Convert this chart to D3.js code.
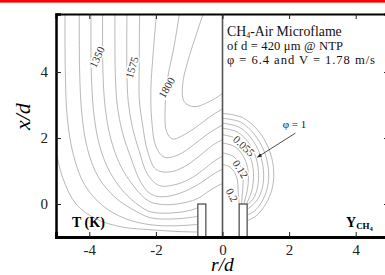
<!DOCTYPE html>
<html>
<head>
<meta charset="utf-8">
<script src="https://cdn.jsdelivr.net/npm/d3@7"></script>
<style>
  body { margin: 0; background: #fff; }
  svg { display: block; font-family: "Liberation Serif", "DejaVu Serif", serif; }
</style>
</head>
<body>
<svg id="chart" width="385" height="275"></svg>
<script>
// axis ticks
const rTicks = [-4, -2, 0, 2, 4];
const xTicks = [0, 2, 4];

// temperature contours, left half, [r/d, x/d]
const tempContours = [
  [[-5.0,1.6],[-4.8,0.8],[-4.4,0.0],[-3.8,-0.45],[-3.0,-0.7],[-2.15,-0.78],[-1.4,-0.83],[-0.76,-0.85]],
  [[-4.73,5.8],[-4.72,4.0],[-4.66,2.6],[-4.48,1.5],[-4.15,0.6],[-3.6,-0.05],[-2.9,-0.45],[-2.15,-0.63],[-1.4,-0.66],[-0.76,-0.62]],
  [[-4.3,5.8],[-4.29,4.0],[-4.22,2.7],[-4.05,1.65],[-3.72,0.8],[-3.2,0.18],[-2.6,-0.22],[-2.15,-0.42],[-1.4,-0.45],[-0.76,-0.38]],
  [[-3.95,5.8],[-3.94,4.0],[-3.87,2.8],[-3.7,1.8],[-3.4,1.0],[-2.95,0.35],[-2.5,-0.05],[-2.15,-0.24],[-1.5,-0.27],[-1.0,-0.2],[-0.76,-0.12]],
  [[-3.6,5.8],[-3.59,4.0],[-3.52,2.9],[-3.36,2.0],[-3.08,1.2],[-2.65,0.52],[-2.2,0.08],[-1.7,-0.02],[-1.1,0.05],[-0.72,0.18],[-0.4,0.4],[-0.15,0.55],[0,0.62]],
  [[-3.23,5.8],[-3.22,4.0],[-3.16,3.0],[-3.0,2.15],[-2.75,1.4],[-2.45,0.65],[-2.15,0.3],[-1.8,0.22],[-1.3,0.32],[-0.75,0.58],[-0.4,0.82],[-0.15,0.98],[0,1.05]],
  [[-2.87,5.8],[-2.87,4.0],[-2.83,3.1],[-2.7,2.3],[-2.5,1.6],[-2.25,0.9],[-1.9,0.56],[-1.45,0.58],[-1.0,0.75],[-0.6,1.02],[-0.25,1.3],[0,1.45]],
  [[-2.49,5.8],[-2.5,4.2],[-2.5,3.2],[-2.4,2.4],[-2.25,1.6],[-2.0,1.05],[-1.6,0.97],[-1.15,1.13],[-0.7,1.45],[-0.3,1.78],[0,1.95]],
  [[-1.98,5.8],[-2.08,4.6],[-2.15,3.5],[-2.13,2.6],[-2.0,1.75],[-1.75,1.42],[-1.35,1.48],[-0.9,1.77],[-0.45,2.12],[0,2.4]],
  [[-1.29,5.8],[-1.45,4.8],[-1.65,3.8],[-1.72,3.0],[-1.68,2.2],[-1.5,1.97],[-1.15,2.1],[-0.7,2.4],[-0.3,2.7],[0,2.88]],
  [[-0.57,5.8],[-0.8,5.1],[-1.05,4.3],[-1.2,3.6],[-1.15,3.1],[-0.85,2.95],[-0.4,3.1],[0,3.35]]
];

// methane mass fraction contours, right half
const fuelContours = [
  [[0,2.75],[0.6,2.62],[1.05,2.25],[1.38,1.7],[1.53,1.1],[1.5,0.5],[1.3,0],[1.02,-0.35],[0.76,-0.5]],
  [[0,2.6],[0.55,2.48],[0.95,2.12],[1.25,1.6],[1.38,1.05],[1.35,0.5],[1.17,0.05],[0.95,-0.22],[0.76,-0.33]],
  [[0,2.45],[0.5,2.33],[0.86,2.0],[1.12,1.52],[1.23,1.02],[1.2,0.5],[1.04,0.12],[0.76,-0.15]],
  [[0,2.3],[0.45,2.18],[0.77,1.88],[0.99,1.45],[1.08,0.98],[1.05,0.5],[0.92,0.15],[0.76,0]],
  [[0,2.1],[0.4,1.99],[0.68,1.72],[0.86,1.35],[0.93,0.95],[0.9,0.5],[0.8,0.18],[0.72,0]],
  [[0,1.85],[0.35,1.75],[0.58,1.52],[0.73,1.2],[0.78,0.85],[0.75,0.45],[0.68,0.15],[0.64,0]],
  [[0,1.55],[0.3,1.46],[0.48,1.27],[0.59,1.0],[0.62,0.7],[0.6,0.35],[0.57,0]],
  [[0,1.2],[0.22,1.12],[0.37,0.95],[0.45,0.7],[0.47,0.4],[0.5,0]]
];

const tempLabels = ['1350', '1575', '1800'];
const tempLabelAt = [[-3.77, 4.45], [-2.72, 4.14], [-1.68, 3.53]];
const fuelLabels = ['0.055', '0.12', '0.2'];
const fuelLabelAt = [[0.645, 1.76], [0.54, 1.06], [0.29, 0.27]];

// burner tube walls (inner, outer radius) and exit height
const tubeWall = [0.5, 0.74];
const tubeExit = 0;

const noteLines = ['of d = 420 μm @ NTP', 'φ = 6.4 and V = 1.78 m/s'];

const svg = d3.select('#chart');
const W = 385, H = 275;

const xs = d3.scaleLinear().domain([-5, 5]).range([56, 389]);
const ys = d3.scaleLinear().domain([-1, 5.76]).range([237, 14]);

// red strip at the very top
svg.append('rect').attr('x', 0).attr('y', 0).attr('width', W).attr('height', 2.6).attr('fill', '#f00');

const defs = svg.append('defs');
defs.append('clipPath').attr('id', 'clipL').append('rect')
  .attr('x', xs(-5)).attr('y', ys(5.76)).attr('width', xs(0) - xs(-5)).attr('height', ys(-1) - ys(5.76));
defs.append('clipPath').attr('id', 'clipR').append('rect')
  .attr('x', xs(0)).attr('y', ys(5.76)).attr('width', xs(5) - xs(0)).attr('height', ys(-1) - ys(5.76));

const line = d3.line()
  .x(d => xs(d[0]))
  .y(d => ys(d[1]))
  .curve(d3.curveCatmullRom.alpha(0.5));

svg.append('g').attr('clip-path', 'url(#clipL)')
  .selectAll('path').data(tempContours).join('path')
  .attr('d', line)
  .attr('fill', 'none').attr('stroke', '#a0a0a0').attr('stroke-width', 0.75);

svg.append('g').attr('clip-path', 'url(#clipR)')
  .selectAll('path').data(fuelContours).join('path')
  .attr('d', line)
  .attr('fill', 'none').attr('stroke', '#a0a0a0').attr('stroke-width', 0.75);

// contour labels
const tempAngles = [-65, -74, -60];
svg.append('g').selectAll('text').data(tempLabels).join('text')
  .attr('transform', (d, i) => `translate(${xs(tempLabelAt[i][0])},${ys(tempLabelAt[i][1])}) rotate(${tempAngles[i]})`)
  .attr('text-anchor', 'middle').attr('dy', '0.35em')
  .attr('font-size', 11).attr('fill', '#333')
  .attr('stroke', '#fff').attr('stroke-width', 3).attr('paint-order', 'stroke')
  .text(d => d);

const fuelAngles = [43, 58, 63];
svg.append('g').selectAll('text').data(fuelLabels).join('text')
  .attr('transform', (d, i) => `translate(${xs(fuelLabelAt[i][0])},${ys(fuelLabelAt[i][1])}) rotate(${fuelAngles[i]})`)
  .attr('text-anchor', 'middle').attr('dy', '0.35em')
  .attr('font-size', 11).attr('fill', '#333')
  .attr('stroke', '#fff').attr('stroke-width', 3).attr('paint-order', 'stroke')
  .text(d => d);

// phi = 1 pointer
defs.append('marker').attr('id', 'arr').attr('viewBox', '0 0 10 10')
  .attr('refX', 9).attr('refY', 5).attr('markerWidth', 6).attr('markerHeight', 6).attr('orient', 'auto')
  .append('path').attr('d', 'M0,1 L10,5 L0,9 Z').attr('fill', '#222');
svg.append('line')
  .attr('x1', xs(2.19)).attr('y1', ys(2.15)).attr('x2', xs(1.05)).attr('y2', ys(1.42))
  .attr('stroke', '#222').attr('stroke-width', 0.8).attr('marker-end', 'url(#arr)');
svg.append('text').attr('x', xs(2.16)).attr('y', ys(2.42)).attr('dy', '0.35em')
  .attr('text-anchor', 'middle').attr('font-size', 11).attr('fill', '#222').text('φ = 1');

// centreline
svg.append('line')
  .attr('x1', xs(0)).attr('x2', xs(0)).attr('y1', ys(5.76)).attr('y2', ys(-1))
  .attr('stroke', '#555').attr('stroke-width', 1.6);

// burner tubes on both sides
svg.append('g').selectAll('rect').data([-1, 1]).join('rect')
  .attr('x', s => s < 0 ? xs(-tubeWall[1]) : xs(tubeWall[0]))
  .attr('y', ys(tubeExit))
  .attr('width', xs(tubeWall[1]) - xs(tubeWall[0]))
  .attr('height', ys(-1) - ys(tubeExit))
  .attr('fill', '#fff').attr('stroke', '#444').attr('stroke-width', 1.2);

// axes, ticks drawn inward
const fmt = d => d < 0 ? '-' + Math.abs(d) : String(d);
const gx = svg.append('g').attr('transform', `translate(0,${ys(-1)})`)
  .call(d3.axisBottom(xs).tickValues(rTicks).tickSize(-5).tickPadding(7).tickFormat(fmt));
const gxTop = svg.append('g').attr('transform', `translate(0,${ys(5.76)})`)
  .call(d3.axisTop(xs).tickValues(rTicks).tickSize(-5).tickFormat(''));
const gy = svg.append('g').attr('transform', `translate(${xs(-5)},0)`)
  .call(d3.axisLeft(ys).tickValues(xTicks).tickSize(-5).tickPadding(8).tickFormat(fmt));
const gyR = svg.append('g').attr('transform', `translate(${xs(5)},0)`)
  .call(d3.axisRight(ys).tickValues(xTicks).tickSize(-5).tickFormat(''));

[gx, gxTop, gy, gyR].forEach(g => {
  g.attr('font-family', null).attr('font-size', null);
  g.selectAll('.tick line').attr('stroke', '#222').attr('stroke-width', 1);
  g.selectAll('.tick text').attr('font-size', 15).attr('fill', '#222');
});
gx.select('.domain').attr('stroke', '#000').attr('stroke-width', 3);
gxTop.select('.domain').attr('stroke', '#000').attr('stroke-width', 2);
gy.select('.domain').attr('stroke', '#000').attr('stroke-width', 2.5);
gyR.select('.domain').attr('stroke', '#000').attr('stroke-width', 2);

// axis titles
svg.append('text').attr('transform', `translate(30,${ys(2.65)}) rotate(-90)`)
  .attr('text-anchor', 'middle').attr('font-size', 22).attr('font-style', 'italic').text('x/d');
svg.append('text').attr('x', xs(0)).attr('y', 270.5)
  .attr('text-anchor', 'middle').attr('font-size', 19.5).attr('font-style', 'italic').text('r/d');

// field names
svg.append('text').attr('x', 72).attr('y', 227).attr('font-size', 14).attr('font-weight', 'bold').text('T (K)');
const yt = svg.append('text').attr('x', 346).attr('y', 227).attr('font-size', 14).attr('font-weight', 'bold');
yt.append('tspan').text('Y');
yt.append('tspan').attr('font-size', 9).attr('dy', 2).text('CH');
yt.append('tspan').attr('font-size', 6).attr('dy', 2).text('4');

// annotation block, stretched to the widths seen in the original
const noteWidths = [116, 148];
const note = svg.append('g').attr('font-size', 12.6).attr('fill', '#111');
const t1 = note.append('text').attr('x', 227).attr('y', 35.5).attr('font-size', 13.8);
t1.append('tspan').text('CH');
t1.append('tspan').attr('font-size', 8).attr('dy', 2).text('4');
t1.append('tspan').attr('dy', -2).text('-Air Microflame');
note.selectAll('text.n').data(noteLines).join('text').attr('class', 'n')
  .attr('x', 227).attr('y', (d, i) => 49.5 + i * 14)
  .attr('textLength', (d, i) => noteWidths[i]).attr('lengthAdjust', 'spacing')
  .text(d => d);
</script>
</body>
</html>
